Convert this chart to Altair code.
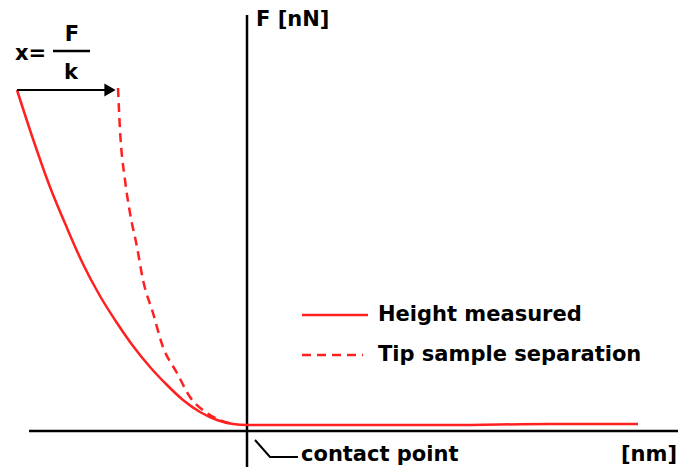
import altair as alt
import pandas as pd

RED = "#ff2020"
FONT = "DejaVu Sans"

# Force-distance curve: "Height measured" (solid)
height_x = [-23.0, -21.4, -19.7, -18.0, -16.4, -14.7, -13.0, -11.4, -9.7, -8.0,
            -6.4, -4.7, -3.0, -1.4, 0.0, 5.3, 20.3, 30.3, 39.1]
height_f = [34.1, 29.2, 24.4, 20.3, 16.7, 13.5, 10.8, 8.5, 6.4, 4.6,
            3.1, 1.9, 1.1, 0.7, 0.6, 0.6, 0.6, 0.7, 0.7]

# "Tip sample separation" (dashed)
tip_x = [-12.9, -12.7, -12.2, -11.7, -11.0, -10.4, -9.4, -8.4, -7.0, -5.7,
         -4.0, -2.7, -1.5]
tip_f = [34.3, 30.1, 25.1, 21.8, 18.4, 15.1, 11.8, 8.4, 5.8, 3.4,
         1.8, 1.1, 0.7]

legend_labels = ["Height measured", "Tip sample separation"]

xs = alt.Scale(domain=[-23.9, 43.1], nice=False, zero=False)
ys = alt.Scale(domain=[-3.6, 42.3], nice=False, zero=False)

def X(field="x"):
    return alt.X(f"{field}:Q", scale=xs, axis=None)

def Y(field="y"):
    return alt.Y(f"{field}:Q", scale=ys, axis=None)

# axes drawn as rules
axes_df = pd.DataFrame({"x": [-21.8, 0.0], "x2": [43.9, 0.0],
                        "y": [0.0, 41.6], "y2": [0.0, -4.4]})
axes = alt.Chart(axes_df).mark_rule(color="black", strokeWidth=2.5).encode(
    x=X(), x2="x2:Q", y=Y(), y2="y2:Q")

solid = alt.Chart(pd.DataFrame({"x": height_x, "y": height_f,
                                "o": range(len(height_x))})).mark_line(
    color=RED, strokeWidth=2.5, interpolate="monotone").encode(x=X(), y=Y(), order="o:Q")

dashed = alt.Chart(pd.DataFrame({"x": tip_x, "y": tip_f,
                                 "o": range(len(tip_x))})).mark_line(
    color=RED, strokeWidth=2.5, strokeDash=[9, 6], interpolate="monotone").encode(
    x=X(), y=Y(), order="o:Q")

# arrow x = F/k
arrow_line = alt.Chart(pd.DataFrame({"x": [-23.0], "x2": [-14.0], "y": [34.1]})).mark_rule(
    color="black", strokeWidth=2).encode(x=X(), x2="x2:Q", y=Y())
arrow_head = alt.Chart(pd.DataFrame({"x": [-13.7], "y": [34.1]})).mark_point(
    shape="triangle-right", filled=True, color="black", opacity=1, size=170).encode(x=X(), y=Y())

frac_bar = alt.Chart(pd.DataFrame({"x": [-19.4], "x2": [-15.7], "y": [38.0]})).mark_rule(
    color="black", strokeWidth=2.5).encode(x=X(), x2="x2:Q", y=Y())

# leader line for contact point
leader = alt.Chart(pd.DataFrame({"x": [0.8, 2.3, 5.1], "y": [-0.9, -2.6, -2.6],
                                 "o": [0, 1, 2]})).mark_line(
    color="black", strokeWidth=2).encode(x=X(), y=Y(), order="o:Q")

# manual legend
leg_solid = alt.Chart(pd.DataFrame({"x": [5.5], "x2": [12.1], "y": [11.6]})).mark_rule(
    color=RED, strokeWidth=2.5).encode(x=X(), x2="x2:Q", y=Y())
leg_dash = alt.Chart(pd.DataFrame({"x": [5.5], "x2": [11.6], "y": [7.6]})).mark_rule(
    color=RED, strokeWidth=2.5, strokeDash=[9, 6]).encode(x=X(), x2="x2:Q", y=Y())

texts_df = pd.DataFrame({
    "x": [13.1, 13.1, 0.9, 5.4, -23.2],
    "y": [11.6, 7.6, 41.1, -2.4, 37.7],
    "t": legend_labels + ["F [nN]", "contact point", "x="],
})
texts = alt.Chart(texts_df).mark_text(
    align="left", baseline="middle", font=FONT, fontSize=21, fontWeight="bold",
    color="black").encode(x=X(), y=Y(), text="t:N")

nm_txt = alt.Chart(pd.DataFrame({"x": [43.0], "y": [-2.4], "t": ["[nm]"]})).mark_text(
    align="right", baseline="middle", font=FONT, fontSize=21, fontWeight="bold",
    color="black").encode(x=X(), y=Y(), text="t:N")

frac_df = pd.DataFrame({"x": [-17.5, -17.6], "y": [39.6, 35.8], "t": ["F", "k"]})
frac_txt = alt.Chart(frac_df).mark_text(
    align="center", baseline="middle", font=FONT, fontSize=21, fontWeight="bold",
    color="black").encode(x=X(), y=Y(), text="t:N")

chart = alt.layer(axes, solid, dashed, arrow_line, arrow_head, frac_bar, leader,
                  leg_solid, leg_dash, texts, nm_txt, frac_txt).properties(
    width=670, height=459, padding=0,
    autosize=alt.AutoSizeParams(type="none"),
    background="white",
).configure_view(stroke=None)

chart.save("out.html", embed_options={"renderer": "svg", "actions": False})
